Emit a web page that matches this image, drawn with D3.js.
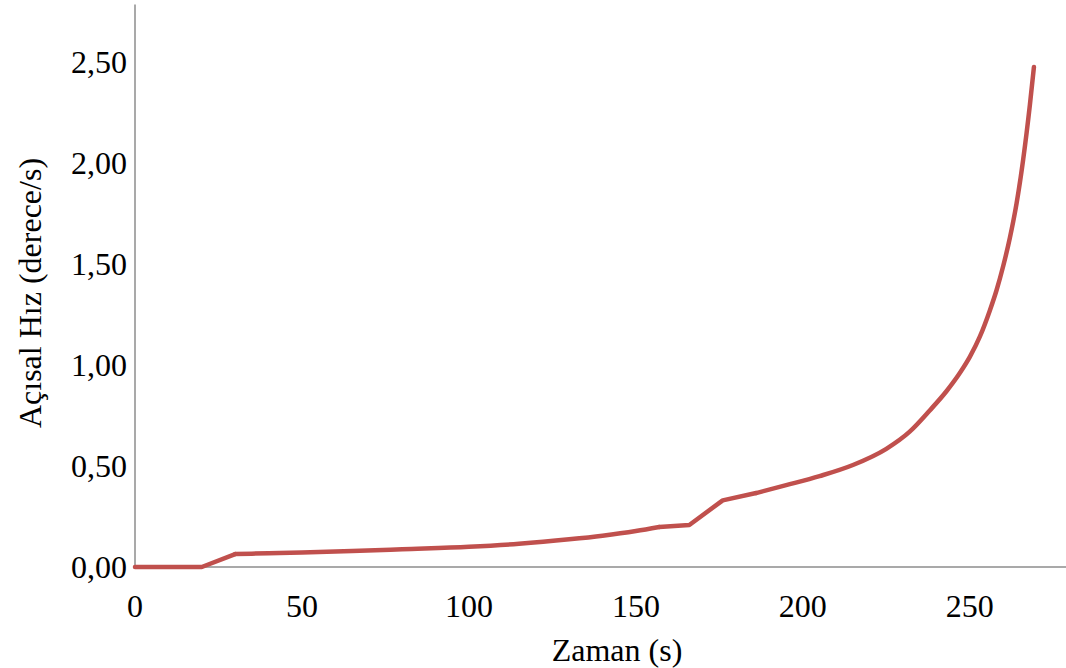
<!DOCTYPE html>
<html>
<head>
<meta charset="utf-8">
<script src="https://cdn.jsdelivr.net/npm/d3@7"></script>
<style>
  html, body { margin: 0; padding: 0; background: #fff; }
  svg { display: block; }
  text { font-family: "Liberation Serif", "Times New Roman", serif; fill: #000; }
</style>
</head>
<body>
<svg id="chart" width="1066" height="668"></svg>
<script>
// Data
const timeValues = [0, 5, 20, 30, 40, 50, 65, 80, 100, 115, 130, 140, 150, 157, 166, 176, 186, 195, 205, 215, 225, 232, 238, 243, 247, 250, 253, 256, 258, 260, 262, 264, 266, 268, 269.2];
const angularSpeed = [0, 0, 0, 0.064, 0.068, 0.072, 0.079, 0.088, 0.10, 0.115, 0.137, 0.155, 0.178, 0.198, 0.208, 0.33, 0.366, 0.405, 0.45, 0.505, 0.585, 0.67, 0.775, 0.87, 0.96, 1.04, 1.14, 1.27, 1.37, 1.49, 1.63, 1.80, 2.02, 2.29, 2.475];
const xTicks = [0, 50, 100, 150, 200, 250];
const yTicks = [0, 0.5, 1.0, 1.5, 2.0, 2.5];
const xTitle = "Zaman (s)";
const yTitle = "Açısal Hız (derece/s)";

const svg = d3.select("#chart");
const x = d3.scaleLinear().domain([0, 280]).range([135, 1070]);
const y = d3.scaleLinear().domain([0, 2.5]).range([567, 62]);
const yTop = 2.785;

const fmt = v => d3.format(".2f")(v).replace(".", ",");

// axes lines
svg.append("line")
  .attr("x1", x(0)).attr("x2", x(0))
  .attr("y1", y(0)).attr("y2", y(yTop))
  .attr("stroke", "#8c8c8c").attr("stroke-width", 1.5);
svg.append("line")
  .attr("x1", x(0)).attr("x2", x(280))
  .attr("y1", y(0)).attr("y2", y(0))
  .attr("stroke", "#8c8c8c").attr("stroke-width", 1.5);

// y tick labels
svg.selectAll(".ytick").data(yTicks).enter().append("text")
  .attr("x", 127).attr("y", d => y(d) + 11)
  .attr("text-anchor", "end")
  .style("font-size", "32px")
  .text(d => fmt(d));

// x tick labels
svg.selectAll(".xtick").data(xTicks).enter().append("text")
  .attr("x", d => x(d)).attr("y", 617)
  .attr("text-anchor", "middle")
  .style("font-size", "32px")
  .text(d => d);

// titles
svg.append("text")
  .attr("x", 617).attr("y", 661)
  .attr("text-anchor", "middle")
  .style("font-size", "32px")
  .text(xTitle);
svg.append("text")
  .attr("transform", "translate(41,293) rotate(-90)")
  .attr("text-anchor", "middle")
  .style("font-size", "32px")
  .text(yTitle);

// line: smooth segments where the reference is smooth, straight between the kinks
const pts = timeValues.map((t, i) => [t, angularSpeed[i]]);
const idx = t => timeValues.indexOf(t);
const segments = [
  { data: pts.slice(0, idx(30) + 1), curve: d3.curveLinear },
  { data: pts.slice(idx(30), idx(157) + 1), curve: d3.curveMonotoneX },
  { data: pts.slice(idx(157), idx(186) + 1), curve: d3.curveLinear },
  { data: pts.slice(idx(186)), curve: d3.curveMonotoneX }
];
segments.forEach(s => {
  const line = d3.line().x(d => x(d[0])).y(d => y(d[1])).curve(s.curve);
  svg.append("path")
    .datum(s.data)
    .attr("d", line)
    .attr("fill", "none")
    .attr("stroke", "#C0504D")
    .attr("stroke-width", 4.5)
    .attr("stroke-linejoin", "round")
    .attr("stroke-linecap", "round");
});
</script>
</body>
</html>
